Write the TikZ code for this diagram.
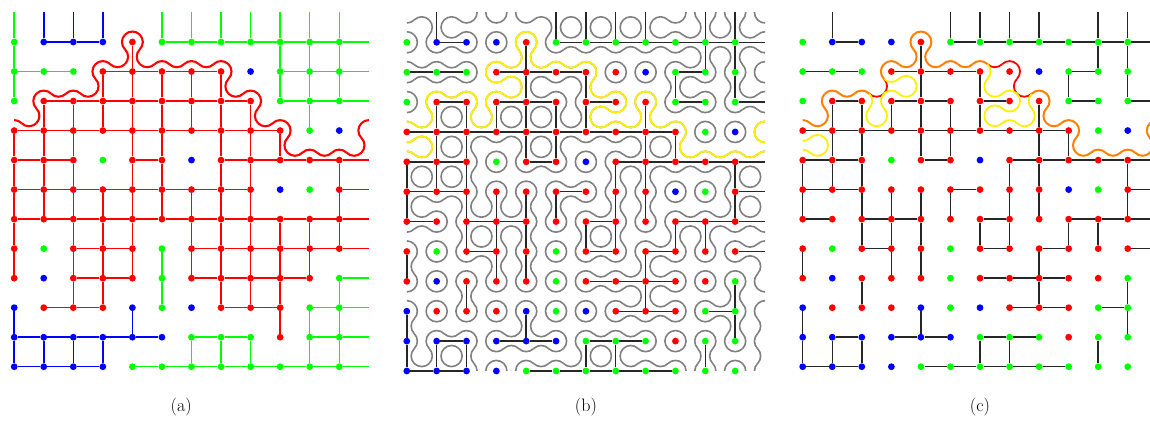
\documentclass[tikz,border=0pt]{standalone}
\definecolor{sR}{RGB}{255,0,0}
\definecolor{sG}{RGB}{0,255,0}
\definecolor{sB}{RGB}{0,0,255}
\definecolor{loopgray}{RGB}{128,128,128}
\definecolor{hullorange}{RGB}{255,128,0}
\definecolor{hullyellow}{RGB}{255,240,0}
\tikzset{
  sitedot/.style={circle,inner sep=0pt,minimum size=6.8pt,draw=none},
  bond/.style={line width=1.45pt,black!85},
  cbond/.style={line width=1.5pt},
  looparc/.style={line width=1.6pt,loopgray},
  hulla/.style={line width=2.1pt,sR},
  hully/.style={line width=1.8pt,hullyellow},
  hullr/.style={line width=1.8pt,sR},
  hullo/.style={line width=2pt,hullorange},
  caption/.style={inner sep=0pt,font=\fontsize{18}{21}\selectfont}
}
% site colours, rows 0..11
\def\SiteRows{0/{G,B,B,B,R,G,G,G,G,G,G,G},1/{G,G,G,R,R,R,R,R,B,G,G,G},2/{G,R,R,R,R,R,R,R,R,G,G,G},3/{R,R,R,R,R,R,R,R,R,R,G,B},4/{R,R,R,G,R,R,B,R,R,R,R,R},5/{R,R,R,R,R,R,R,R,R,B,G,R},6/{R,R,R,R,R,R,R,R,R,R,R,R},7/{R,G,R,R,R,G,R,R,R,R,R,R},8/{R,B,R,R,R,G,R,R,R,R,R,G},9/{B,R,R,R,B,G,B,R,R,R,G,G},10/{B,B,B,B,B,B,G,G,G,R,G,G},11/{B,B,B,B,G,G,G,G,G,G,G,G}}
% occupied horizontal bonds of (b),(c); row -1 repeats row 11
\def\HRows{-1/{1,1,0,0,1,1,1,1,1,0,0,0},0/{0,1,0,0,0,1,1,1,1,1,1,1},1/{1,1,0,1,1,1,0,0,0,1,0,0},2/{0,1,0,1,1,0,1,0,0,1,0,1},3/{1,1,1,1,1,1,1,1,1,0,0,0},4/{1,1,0,0,1,0,0,1,1,1,1,1},5/{1,1,0,0,0,1,0,0,0,0,0,1},6/{1,0,1,1,0,0,1,0,0,1,1,1},7/{0,0,1,0,0,0,1,0,1,0,0,1},8/{0,0,0,0,0,0,1,1,1,0,0,0},9/{0,0,0,0,0,0,0,1,1,0,1,0},10/{0,1,0,1,1,0,1,1,0,0,0,0},11/{1,1,0,0,1,1,1,1,1,0,0,0}}
% occupied vertical bonds: row r joins (c,r-1) and (c,r)
\def\VRows{0/{0,1,0,0,0,1,1,1,1,0,1,1},1/{0,0,0,0,1,0,0,0,0,0,1,1},2/{0,0,0,0,1,0,1,0,0,1,0,1},3/{0,1,1,1,1,1,1,0,1,0,0,0},4/{0,1,1,0,1,1,0,0,1,1,0,0},5/{1,1,1,0,0,0,0,1,1,0,0,1},6/{1,0,1,1,1,1,0,1,1,0,0,1},7/{0,0,1,1,1,0,1,1,0,1,1,0},8/{1,0,0,1,1,0,0,0,1,0,0,0},9/{0,0,1,0,0,0,0,0,1,0,0,1},10/{1,0,0,0,1,0,0,0,0,0,0,1},11/{1,1,1,0,0,0,1,1,0,0,1,0}}
% hull arcs: centre x / centre y / facing angle
\def\ArcsBoth{0/3/90,.5/2.5/270,.5/2.5/0,1/2/180,1/2/90,1.5/1.5/270,2/2/90,3/1/180,3/1/90,3.5/.5/270,3.5/.5/0,4/0/180,4/0/90,4/0/0,4.5/.5/180,4.5/.5/270,5/1/90,5.5/.5/270,6/1/90,8/2/90,8/2/0,8.5/2.5/180,8.5/2.5/270,9/3/90,9/3/0,9.5/3.5/180,9.5/3.5/270,10/4/90,10.5/3.5/270,11/4/90,11.5/3.5/270,12/3/180,12/3/90}
\def\ArcsRedOnly{2.5/1.5/270,2.5/1.5/0,6.5/.5/270,7/1/90,7/1/0,7.5/1.5/180,7.5/1.5/270,11.5/3.5/0}
\def\ArcsYellowOnly{2/2/0,2.5/2.5/180,2.5/2.5/270,2.5/2.5/0,3/2/180,3/2/90,3.5/1.5/270,3.5/1.5/0,3.5/1.5/90,3/1/270,6/1/0,6.5/1.5/180,6.5/1.5/270,7/2/90,7/2/0,7/2/270,6.5/2.5/90,6.5/2.5/180,6.5/2.5/270,7/3/90,7.5/2.5/270,7.5/2.5/0,8/2/180,12/4/90,0/4/90,.5/3.5/270,.5/3.5/0,.5/3.5/90,0/3/270,12/3/270}
% one quarter arc: style, centre x, centre y, facing angle
\newcommand\qarc[4]{\draw[#1] (#2,#3) ++(#4-45:\Rad) arc[start angle=#4-45,end angle=#4+45,radius=\Rad];}
\newcommand\arclist[2]{\foreach \ax/\ay/\aa in #2 {\qarc{#1}{\ax}{\ay}{\aa}}}
\newcommand\vdiamond[3]{% c, r, bit
  \ifnum#3=1
    \qarc{looparc}{#1-0.5}{#2-0.5}{0}\qarc{looparc}{#1+0.5}{#2-0.5}{180}%
  \else
    \qarc{looparc}{#1}{#2-1}{270}\qarc{looparc}{#1}{#2}{90}%
  \fi}
\newcommand\grayloops{%
  \foreach \rr/\bits in \HRows {\foreach \bb [count=\cc from 0] in \bits {%
    \ifnum\bb=1
      \qarc{looparc}{\cc+0.5}{\rr-0.5}{270}\qarc{looparc}{\cc+0.5}{\rr+0.5}{90}%
    \else
      \qarc{looparc}{\cc}{\rr}{0}\qarc{looparc}{\cc+1}{\rr}{180}%
    \fi}}%
  \foreach \rr/\bits in \VRows {\foreach \bb [count=\cc from 0] in \bits {%
    \vdiamond{\cc}{\rr}{\bb}%
    \ifnum\cc=0 \vdiamond{12}{\rr}{\bb}\fi}}}
\newcommand\sites[1]{%
  \foreach \rr/\rowc in \SiteRows {\foreach \col [count=\cc from 0] in \rowc {%
    \expandafter\xdef\csname sc\rr-\cc\endcsname{\col}%
    \node[sitedot,fill=s\col] (#1-\rr-\cc) at (\cc,\rr) {};}%
    \coordinate (#1-right-\rr) at (12,\rr);}%
  \foreach \cc in {0,...,11} {\coordinate (#1-top-\cc) at (\cc,-1);}}
\newcommand\blackbonds[1]{%
  \foreach \rr/\bits in \HRows {\ifnum\rr>-1 \foreach \bb [count=\cc from 0] in \bits {%
    \ifnum\bb=1
      \ifnum\cc=11 \draw[bond] (#1-\rr-11) -- (#1-right-\rr);%
      \else \pgfmathtruncatemacro\nx{\cc+1}\draw[bond] (#1-\rr-\cc) -- (#1-\rr-\nx);\fi
    \fi}\fi}%
  \foreach \rr/\bits in \VRows {\foreach \bb [count=\cc from 0] in \bits {%
    \ifnum\bb=1
      \ifnum\rr=0 \draw[bond] (#1-0-\cc) -- (#1-top-\cc);%
      \else \pgfmathtruncatemacro\py{\rr-1}\draw[bond] (#1-\py-\cc) -- (#1-\rr-\cc);\fi
    \fi}}}
\newcommand\colourbonds[1]{%
  \foreach \rr in {0,...,11} {\foreach \cc in {0,...,11} {%
    \edef\pp{\csname sc\rr-\cc\endcsname}%
    \ifnum\cc<11
      \pgfmathtruncatemacro\nx{\cc+1}\edef\qq{\csname sc\rr-\nx\endcsname}%
      \ifx\pp\qq \draw[cbond,color=s\pp] (#1-\rr-\cc) -- (#1-\rr-\nx);\fi
    \fi
    \ifnum\rr<11
      \pgfmathtruncatemacro\ny{\rr+1}\edef\qq{\csname sc\ny-\cc\endcsname}%
      \ifx\pp\qq \draw[cbond,color=s\pp] (#1-\rr-\cc) -- (#1-\ny-\cc);\fi
    \fi}}}
\begin{document}
\begin{tikzpicture}
\useasboundingbox (0pt,0pt) rectangle (1150pt,-421pt);
% ---------- (a)
\begin{scope}[shift={(14.2pt,-42pt)},x=29.55pt,y=-29.52pt]
  \def\Rad{10.45pt}
  \sites{a}
  \colourbonds{a}
  \foreach \cc/\col in {0/G,1/B,2/B,3/B,5/G,6/G,7/G,8/G,9/G,10/G,11/G}
    {\draw[cbond,color=s\col] (a-0-\cc) -- (a-top-\cc);}
  \foreach \rr/\col in {0/G,1/G,2/G,4/R,5/R,6/R,7/R,8/G,9/G,10/G,11/G}
    {\draw[cbond,color=s\col] (a-\rr-11) -- (a-right-\rr);}
  \begin{scope}
    \clip (0,-1) rectangle (12,11);
    \arclist{hulla}{\ArcsBoth}
    \arclist{hulla}{\ArcsRedOnly}
  \end{scope}
  \node[caption] (capa) at (5.65,12.37) {(a)};
\end{scope}
% ---------- (b)
\begin{scope}[shift={(406.8pt,-42.3pt)},x=29.85pt,y=-29.88pt]
  \def\Rad{10.55pt}
  \begin{scope}
    \clip (0,-1) rectangle (12,11);
    \grayloops
    \arclist{hully}{\ArcsBoth}
    \arclist{hully}{\ArcsYellowOnly}
  \end{scope}
  \sites{b}
  \blackbonds{b}
  \node[caption] (capb) at (6,12.2) {(b)};
\end{scope}
% ---------- (c)
\begin{scope}[shift={(802.7pt,-42pt)},x=29.55pt,y=-29.52pt]
  \def\Rad{10.45pt}
  \begin{scope}
    \clip (0,-1) rectangle (12,11);
    \arclist{hullr}{\ArcsRedOnly}
    \arclist{hully}{\ArcsYellowOnly}
    \arclist{hullo}{\ArcsBoth}
  \end{scope}
  \sites{c}
  \blackbonds{c}
  \node[caption] (capc) at (6,12.37) {(c)};
\end{scope}
\end{tikzpicture}
\end{document}
